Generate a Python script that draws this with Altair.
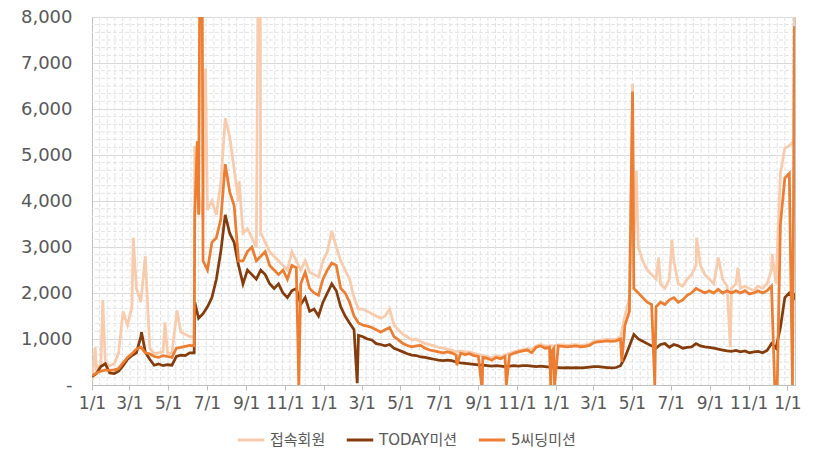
import altair as alt
import pandas as pd
import numpy as np

series_names = ["접속회원", "TODAY미션", "5씨딩미션"]
colors = ["#F8CBAD", "#843C0C", "#ED7D31"]
FONT = "DejaVu Sans, Noto Sans CJK KR"

start = pd.Timestamp("2019-01-01")
end_day = 1108

# weekly readings (every 7 days from 2019-01-01)
login = [80, 350, 450, 480, 420, 460, 700, 1600, 1300, 1700, 2100, 1800, 2000, 800, 680, 700, 720, 680, 700, 1500,
         1150, 1100, 1050, 1050, 4200, 3600, 3800, 4000, 3700, 4400, 5800, 5400, 4700, 4000, 3300, 3400, 3200, 3000, 3300, 3100,
         2900, 2800, 2700, 2600, 2500, 2900, 2700, 2500, 2700, 2450, 2400, 2350, 2700, 2900, 3350, 3000, 2700, 2500, 2300, 1900,
         1650, 1650, 1600, 1550, 1500, 1450, 1500, 1650, 1300, 1200, 1100, 1050, 980, 1000, 940, 900, 880, 850, 820, 800,
         780, 760, 720, 740, 720, 720, 690, 660, 640, 620, 590, 640, 610, 650, 690, 720, 750, 770, 790, 780,
         850, 880, 850, 850, 850, 870, 870, 860, 870, 880, 860, 870, 890, 950, 970, 980, 990, 990, 990, 1050,
         1500, 1900, 3000, 3000, 2700, 2500, 2400, 2300, 2200, 2100, 2300, 2700, 2200, 2150, 2300, 2400, 2600, 2600, 2400, 2300,
         2200, 2770, 2300, 2150, 2100, 2200, 2100, 2150, 2100, 2050, 2150, 2100, 2200, 2500, 2200, 4600, 5150, 5200, 5300]
today = [180, 250, 400, 460, 260, 250, 300, 420, 560, 640, 700, 1050, 720, 560, 430, 460, 420, 440, 430, 620,
         650, 640, 700, 700, 1450, 1550, 1700, 1900, 2300, 2900, 3700, 3300, 3100, 2600, 2200, 2500, 2400, 2300, 2500, 2400,
         2200, 2100, 2200, 2000, 1900, 2050, 2100, 1750, 1900, 1600, 1650, 1500, 1800, 2000, 2200, 2050, 1700, 1500, 1350, 1200,
         1080, 1050, 1000, 980, 900, 880, 850, 880, 800, 760, 720, 680, 650, 640, 610, 600, 580, 560, 540, 530,
         540, 530, 500, 480, 470, 460, 450, 440, 430, 420, 410, 420, 410, 400, 410, 420, 410, 420, 420, 410,
         400, 410, 400, 390, 390, 380, 370, 380, 370, 380, 370, 380, 390, 400, 400, 390, 380, 370, 380, 420,
         600, 850, 1100, 1000, 950, 900, 850, 800, 880, 900, 820, 880, 850, 800, 820, 830, 900, 850, 830, 820,
         800, 780, 760, 740, 730, 750, 720, 740, 700, 720, 730, 700, 750, 900, 800, 1250, 1900, 2000, 1900]
seeding = [200, 260, 300, 330, 320, 330, 360, 480, 600, 680, 780, 820, 700, 680, 620, 600, 640, 620, 600, 800,
           820, 840, 860, 850, 3700, 2700, 2500, 3100, 3200, 3600, 4800, 4200, 3900, 2700, 2700, 2900, 3000, 2700, 2800, 2900,
           2600, 2500, 2400, 2500, 2300, 2600, 2550, 2200, 2450, 2100, 2000, 1950, 2300, 2500, 2650, 2600, 2100, 2000, 1800, 1500,
           1350, 1300, 1280, 1250, 1200, 1150, 1200, 1250, 1050, 980, 900, 860, 830, 850, 860, 800, 760, 740, 720, 700,
           720, 700, 650, 690, 660, 680, 640, 620, 600, 580, 540, 600, 570, 620, 650, 690, 720, 740, 760, 700,
           820, 850, 800, 820, 800, 850, 840, 830, 840, 850, 830, 840, 860, 920, 940, 950, 960, 950, 960, 1000,
           1300, 1600, 2100, 2000, 1900, 1800, 1750, 1700, 1800, 1750, 1850, 1900, 1800, 1850, 1950, 2000, 2100, 2050, 2000, 2050,
           2000, 2080, 2000, 2050, 2000, 2050, 2000, 2050, 1980, 2000, 2050, 2000, 2050, 2150, 0, 3500, 4500, 4600, 4700]

# single-day spikes and drops (day offset, value)
login_extra = [(5, 820), (17, 1850), (65, 3200), (84, 2800), (115, 1360), (134, 1620), (162, 5200), (179, 6880),
               (232, 4430), (262, 9500), (265, 9500), (852, 6550), (858, 4650), (893, 2770), (914, 3150), (953, 3200),
               (1006, 820), (1018, 2550), (1072, 2850), (1107, 8500)]
today_extra = [(78, 1150), (162, 1800), (418, 40), (1107, 2000)]
seeding_extra = [(162, 3700), (166, 5300), (171, 12000), (173, 12000), (326, 0), (575, 430), (614, 0), (615, 0),
                 (653, 0), (723, 0), (725, 750), (729, 0), (835, 500), (852, 6380), (887, 0), (1076, 0), (1080, 0),
                 (1104, 0), (1107, 7800)]


def ms(day):
    return int((start + pd.Timedelta(days=day)).value // 10**6)


rows = []
for name, weekly, extra in zip(series_names, [login, today, seeding], [login_extra, today_extra, seeding_extra]):
    pts = {7 * k: v for k, v in enumerate(weekly)}
    for d, v in extra:
        pts[d] = v
    for d in sorted(pts):
        rows.append({"series": name, "date": ms(d), "value": pts[d]})
df = pd.DataFrame(rows)

tick_days = []
for y in (2019, 2020, 2021):
    for m in (1, 3, 5, 7, 9, 11):
        tick_days.append((pd.Timestamp(year=y, month=m, day=1) - start).days)
tick_days.append((pd.Timestamp("2022-01-01") - start).days)
tick_ms = [ms(d) for d in tick_days]

vgrid = pd.DataFrame({"date": [ms(d) for d in range(12, end_day, 12)]})
hgrid = pd.DataFrame({"value": [k * 1000 / 6 for k in range(1, 48) if k % 6 != 0]})

x_scale = alt.Scale(type="utc", domain=[ms(0), ms(end_day)])
y_scale = alt.Scale(domain=[0, 8000], nice=False)

x_enc = alt.X("date:T", scale=x_scale, title=None,
              axis=alt.Axis(values=tick_ms, labelExpr="utcFormat(datum.value, '%-m/%-d')", grid=False,
                            tickSize=5, tickColor="#bfbfbf", domainColor="#bfbfbf", labelFontSize=17,
                            labelColor="#595959", labelPadding=5, labelFont=FONT, labelFlush=False,
                            labelOverlap=False))
y_enc = alt.Y("value:Q", scale=y_scale, title=None,
              axis=alt.Axis(values=list(range(0, 8001, 1000)),
                            labelExpr="datum.value == 0 ? '-' : format(datum.value, ',')",
                            grid=True, gridColor="#d9d9d9", ticks=False, domainColor="#bfbfbf",
                            labelFontSize=18, labelColor="#595959", labelPadding=20, labelFont=FONT,
                            labelOverlap=False))
color_enc = alt.Color("series:N", scale=alt.Scale(domain=series_names, range=colors), title=None,
                      legend=alt.Legend(orient="none", legendX=144, legendY=408, direction="horizontal",
                                        symbolType="stroke", symbolStrokeWidth=3, symbolSize=700,
                                        labelFontSize=15, labelColor="#595959", labelFont=FONT,
                                        columnPadding=14, labelOffset=4))

vg = alt.Chart(vgrid).mark_rule(color="#e3e3e3", strokeWidth=1, strokeDash=[4, 2]).encode(x=x_enc)
hg = alt.Chart(hgrid).mark_rule(color="#e3e3e3", strokeWidth=1, strokeDash=[4, 2]).encode(y=y_enc)

layers = [vg, hg]
for name in series_names:
    layers.append(
        alt.Chart(df).transform_filter(alt.datum.series == name)
        .mark_line(strokeWidth=2.75, clip=True, interpolate="linear")
        .encode(x=x_enc, y=y_enc, color=color_enc)
    )

chart = alt.layer(*layers).properties(
    width=703, height=368,
    padding={"left": 84, "top": 9, "right": 17, "bottom": 64},
    autosize=alt.AutoSizeParams(type="none"),
).configure_view(stroke="#c8c8c8", strokeWidth=1)

chart.save("out.html", embed_options={"renderer": "svg", "actions": False})
